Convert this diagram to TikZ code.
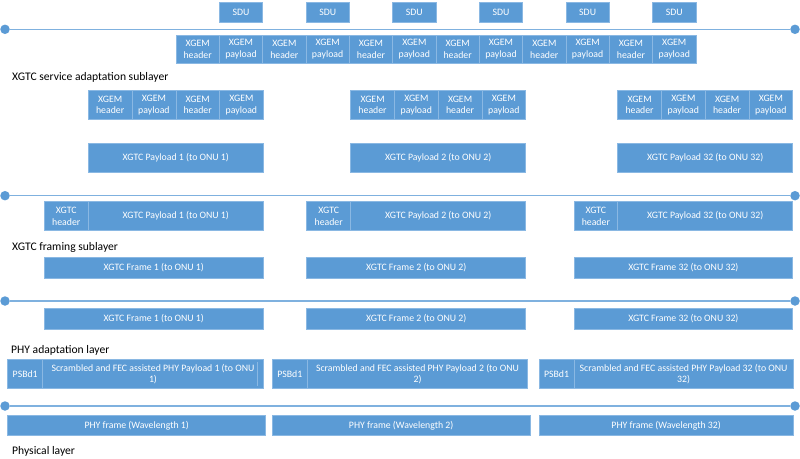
\documentclass[tikz,border=0pt]{standalone}
\usepackage{fontspec}
\setmainfont{Carlito}
\definecolor{boxblue}{HTML}{5B9BD5}
\definecolor{sepblue}{HTML}{8AB8E3}
\definecolor{lineblue}{HTML}{7FB1DF}
\tikzset{
  cell/.style={fill=boxblue, draw=sepblue, line width=0.6pt, text=white, align=center, inner sep=0pt,
    font=\fontsize{9.8}{11.4}\selectfont},
  dot/.style={circle, fill=boxblue, inner sep=0pt, minimum size=9.5pt},
  layerline/.style={draw=lineblue, line width=1.3pt},
  layerlabel/.style={anchor=west, inner sep=0pt, font=\fontsize{11.6}{13}\selectfont, text=black}
}
\begin{document}
\begin{tikzpicture}[x=1pt,y=-1pt]
\useasboundingbox (0,0) rectangle (800,458);
% ---------- layer lines ----------
\node[dot] (l1a) at (5,29.3) {};
\node[dot] (l1b) at (795,29.3) {};
\draw[layerline] (l1a) -- (l1b);
\node[dot] (l2a) at (5,195.7) {};
\node[dot] (l2b) at (795,195.7) {};
\draw[layerline] (l2a) -- (l2b);
\node[dot] (l3a) at (5,301) {};
\node[dot] (l3b) at (795,301) {};
\draw[layerline] (l3a) -- (l3b);
\node[dot] (l4a) at (5,406) {};
\node[dot] (l4b) at (795,406) {};
\draw[layerline] (l4a) -- (l4b);
% ---------- SDUs ----------
\foreach \k in {0,...,5}{
  \node[cell, minimum width=43.4pt, minimum height=20.8pt] (sdu\k) at ({176+43.33*(2*\k+1)+21.67},12.3) {SDU};
}
% ---------- XGEM row 1 ----------
\foreach \i in {0,...,11}{
  \pgfmathtruncatemacro{\odd}{mod(\i,2)}
  \ifnum\odd=0
    \node[cell, minimum width=43.4pt, minimum height=28.4pt] (xa\i) at ({176+43.33*\i+21.67},49.2) {XGEM\\header};
  \else
    \node[cell, minimum width=43.4pt, minimum height=28.4pt] (xa\i) at ({176+43.33*\i+21.67},49.2) {XGEM\\payload};
  \fi
}
\node[layerlabel] (lab1) at (12,77.3) {XGTC service adaptation sublayer};
% ---------- XGEM groups ----------
\foreach \g/\s in {1/88.3,2/350.7,3/617.7}{
  \node[cell, minimum width=43.75pt, minimum height=28.6pt] (g\g a) at ({\s+21.875},105) {XGEM\\header};
  \node[cell, minimum width=43.75pt, minimum height=28.6pt] (g\g b) at ({\s+21.875+43.75},105) {XGEM\\payload};
  \node[cell, minimum width=43.75pt, minimum height=28.6pt] (g\g c) at ({\s+21.875+87.5},105) {XGEM\\header};
  \node[cell, minimum width=43.75pt, minimum height=28.6pt] (g\g d) at ({\s+21.875+131.25},105) {XGEM\\payload};
}
% ---------- XGTC payloads ----------
\node[cell, minimum width=175pt, minimum height=29.4pt] (p1) at (175.8,158) {XGTC Payload 1 (to ONU 1)};
\node[cell, minimum width=175pt, minimum height=29.4pt] (p2) at (438.2,158) {XGTC Payload 2 (to ONU 2)};
\node[cell, minimum width=175pt, minimum height=29.4pt] (p32) at (705.2,158) {XGTC Payload 32 (to ONU 32)};
% ---------- XGTC header + payload ----------
\node[cell, minimum width=44pt, minimum height=29pt] (h1) at (66.3,216.2) {XGTC\\header};
\node[cell, minimum width=175pt, minimum height=29pt] (hp1) at (175.8,216.2) {XGTC Payload 1 (to ONU 1)};
\node[cell, minimum width=44pt, minimum height=29pt] (h2) at (328.7,216.2) {XGTC\\header};
\node[cell, minimum width=175pt, minimum height=29pt] (hp2) at (438.2,216.2) {XGTC Payload 2 (to ONU 2)};
\node[cell, minimum width=43.7pt, minimum height=29pt] (h32) at (595.85,216.2) {XGTC\\header};
\node[cell, minimum width=175pt, minimum height=29pt] (hp32) at (705.2,216.2) {XGTC Payload 32 (to ONU 32)};
\node[layerlabel] (lab2) at (12,247.3) {XGTC framing sublayer};
% ---------- XGTC frames ----------
\node[cell, minimum width=219pt, minimum height=21pt] (f1) at (153.8,267.8) {XGTC Frame 1 (to ONU 1)};
\node[cell, minimum width=219pt, minimum height=21pt] (f2) at (416.2,267.8) {XGTC Frame 2 (to ONU 2)};
\node[cell, minimum width=218.7pt, minimum height=21pt] (f32) at (683.35,267.8) {XGTC Frame 32 (to ONU 32)};
% ---------- XGTC frames (PHY adaptation input) ----------
\node[cell, minimum width=219pt, minimum height=20.7pt] (ff1) at (153.8,318.7) {XGTC Frame 1 (to ONU 1)};
\node[cell, minimum width=219pt, minimum height=20.7pt] (ff2) at (416.2,318.7) {XGTC Frame 2 (to ONU 2)};
\node[cell, minimum width=218.7pt, minimum height=20.7pt] (ff32) at (683.35,318.7) {XGTC Frame 32 (to ONU 32)};
\node[layerlabel] (lab3) at (11,350.7) {PHY adaptation layer};
% ---------- PSBd + scrambled payloads ----------
\node[cell, minimum width=35pt, minimum height=29.4pt] (s1) at (25.2,374) {PSBd1};
\node[cell, minimum width=220.6pt, minimum height=29.4pt] (sp1) at (153,374) {Scrambled and FEC assisted PHY Payload 1 (to ONU\\1)};
\draw[sepblue, line width=0.8pt] (257.7,362) -- (257.7,385.5);
\node[cell, minimum width=35pt, minimum height=29.4pt] (s2) at (289.8,374) {PSBd1};
\node[cell, minimum width=220.4pt, minimum height=29.4pt] (sp2) at (417.5,374) {Scrambled and FEC assisted PHY Payload 2 (to ONU\\2)};
\node[cell, minimum width=35pt, minimum height=29.4pt] (s32) at (556.5,374) {PSBd1};
\node[cell, minimum width=219.3pt, minimum height=29.4pt] (sp32) at (683.65,374) {Scrambled and FEC assisted PHY Payload 32 (to ONU\\32)};
% ---------- PHY frames ----------
\node[cell, minimum width=258pt, minimum height=20.7pt] (ph1) at (136.7,425.3) {PHY frame (Wavelength 1)};
\node[cell, minimum width=257.7pt, minimum height=20.7pt] (ph2) at (401.15,425.3) {PHY frame (Wavelength 2)};
\node[cell, minimum width=254.3pt, minimum height=20.7pt] (ph32) at (666.15,425.3) {PHY frame (Wavelength 32)};
\node[layerlabel] (lab4) at (12,451) {Physical layer};
\end{tikzpicture}
\end{document}
